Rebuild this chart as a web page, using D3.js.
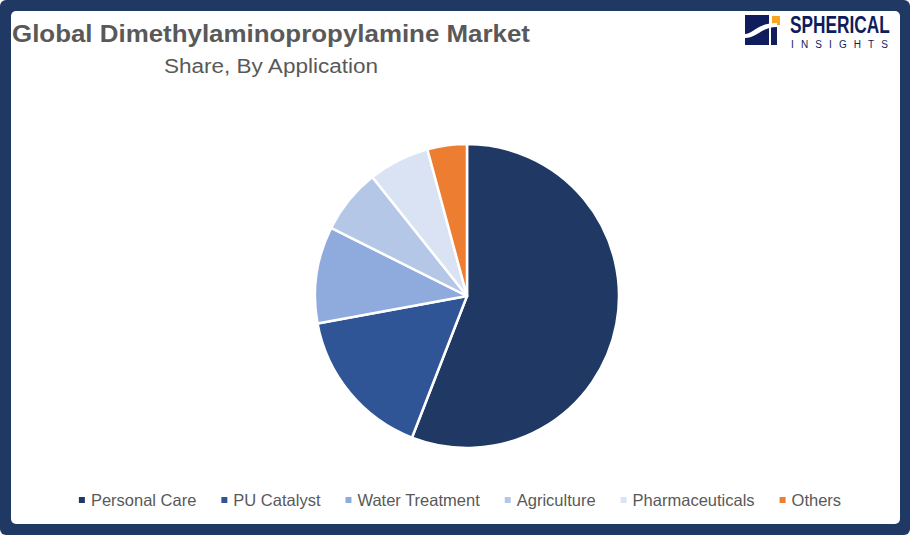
<!DOCTYPE html>
<html>
<head>
<meta charset="utf-8">
<script src="https://cdn.jsdelivr.net/npm/d3@7"></script>
<style>
  html, body { margin: 0; padding: 0; background: #fff; }
  svg { display: block; }
  text { font-family: "Liberation Sans", Arial, sans-serif; fill: #595959; }
</style>
</head>
<body>
<div class="chart"></div>
<script>
(function() {
    // data (share %, clockwise from 12 o'clock)
    var categories = ["Personal Care", "PU Catalyst", "Water Treatment", "Agriculture", "Pharmaceuticals", "Others"];
    var shares = [55.9, 16.2, 10.3, 6.9, 6.5, 4.2];
    var colors = ["#203864", "#2f5597", "#8faadc", "#b4c7e7", "#dae3f3", "#ed7d31"];

    var title = "Global Dimethylaminopropylamine Market";
    var subtitle = "Share, By Application";

    var widthBase = 910;
    var heightBase = 535;
    var border = 11;

    var svg = d3.select(".chart")
        .append("svg")
            .attr("width", widthBase)
            .attr("height", heightBase);

    // navy frame
    svg.append("rect")
        .attr("width", widthBase)
        .attr("height", heightBase)
        .attr("rx", 6)
        .attr("fill", "#1f3864");

    svg.append("rect")
        .attr("x", border)
        .attr("y", border)
        .attr("width", widthBase - border - 10)
        .attr("height", heightBase - 2 * border)
        .attr("rx", 5)
        .attr("fill", "#ffffff");

    // titles
    svg.append("text")
        .attr("x", 12)
        .attr("y", 42)
        .attr("textLength", 518)
        .attr("lengthAdjust", "spacingAndGlyphs")
        .style("font-size", "23px")
        .style("font-weight", "bold")
        .text(title);

    svg.append("text")
        .attr("x", 164)
        .attr("y", 73)
        .attr("textLength", 214)
        .attr("lengthAdjust", "spacingAndGlyphs")
        .style("font-size", "20px")
        .text(subtitle);

    // logo
    var navy = "#0f1d5c";
    var logo = svg.append("g").attr("transform", "translate(745,15)");
    logo.append("rect").attr("width", 24).attr("height", 30).attr("fill", navy);
    logo.append("rect").attr("x", 26).attr("y", 10).attr("width", 6).attr("height", 20).attr("fill", navy);
    logo.append("rect").attr("x", 27).attr("y", 1).attr("width", 8).attr("height", 9).attr("fill", "#f5a623");
    logo.append("path")
        .attr("d", "M0,19 C8,19 12,8 32,8 L32,12 C16,12 12,23 0,23 Z")
        .attr("fill", "#ffffff");
    logo.append("text")
        .attr("transform", "translate(45,18) scale(0.72,1)")
        .style("font-size", "24px")
        .style("font-weight", "bold")
        .style("fill", navy)
        .text("SPHERICAL");
    logo.append("text")
        .attr("x", 46)
        .attr("y", 33)
        .attr("textLength", 97)
        .attr("lengthAdjust", "spacing")
        .style("font-size", "10px")
        .style("fill", navy)
        .text("INSIGHTS");

    // pie
    var cx = 467, cy = 296, radius = 152;

    var pie = d3.pie()
        .sort(null)
        .value(function(d) { return d; });

    var arc = d3.arc()
        .innerRadius(0)
        .outerRadius(radius);

    var color = d3.scaleOrdinal()
        .domain(categories)
        .range(colors);

    svg.append("g")
        .attr("transform", "translate(" + cx + "," + cy + ")")
        .selectAll("path")
        .data(pie(shares))
        .enter()
        .append("path")
            .attr("d", arc)
            .attr("fill", function(d, i) { return color(categories[i]); })
            .attr("stroke", "#ffffff")
            .attr("stroke-width", 2.5)
            .attr("stroke-linejoin", "round");

    // legend, centred under the pie
    var legend = svg.append("g");
    var items = legend.selectAll("g")
        .data(categories)
        .enter()
        .append("g");

    items.append("rect")
        .attr("y", -3)
        .attr("width", 6)
        .attr("height", 6)
        .attr("fill", function(d) { return color(d); });

    items.append("text")
        .attr("x", 12)
        .attr("y", 6)
        .style("font-size", "16.5px")
        .text(function(d) { return d; });

    var gap = 25;
    var offset = 0;
    items.each(function() {
        var w = 12 + d3.select(this).select("text").node().getComputedTextLength();
        d3.select(this).attr("transform", "translate(" + offset + ",0)");
        offset += w + gap;
    });
    var total = offset - gap;
    legend.attr("transform", "translate(" + (460 - total / 2) + ",500)");
})();
</script>
</body>
</html>
